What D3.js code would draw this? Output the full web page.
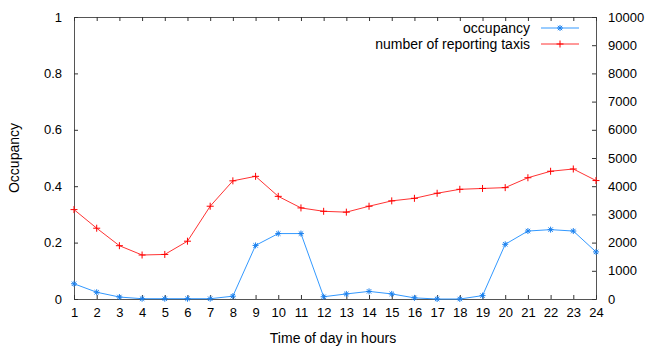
<!DOCTYPE html>
<html>
<head>
<meta charset="utf-8">
<script src="https://cdn.jsdelivr.net/npm/d3@7"></script>
<style>
  body { margin: 0; background: #fff; }
  text { font-family: "Liberation Sans", Arial, sans-serif; fill: #000; }
</style>
</head>
<body>
<script>
var width = 648,
    height = 350;

var hours = d3.range(1, 25);
var occupancy = [0.054, 0.024, 0.007, 0.001, 0.001, 0.001, 0.001, 0.010, 0.190, 0.232, 0.232, 0.008,
                 0.018, 0.027, 0.018, 0.004, 0.000, 0.000, 0.012, 0.194, 0.241, 0.246, 0.241, 0.167];
var taxis = [3170, 2510, 1890, 1560, 1580, 2050, 3290, 4190, 4350, 3640, 3230, 3110,
             3080, 3290, 3480, 3570, 3750, 3890, 3920, 3950, 4300, 4530, 4610, 4200];
var yTicks = [0, 0.2, 0.4, 0.6, 0.8, 1];
var y2Ticks = d3.range(0, 10001, 1000);

var plotLeft = 74, plotRight = 596, plotTop = 17, plotBottom = 299;

var svg = d3.select('body').append('svg')
    .attr('width', width)
    .attr('height', height);

var x = d3.scaleLinear().domain([1, 24]).range([plotLeft, plotRight]);
var y = d3.scaleLinear().domain([0, 1]).range([plotBottom, plotTop]);
var y2 = d3.scaleLinear().domain([0, 10000]).range([plotBottom, plotTop]);

// frame
svg.append('rect')
    .attr('x', plotLeft + 0.5).attr('y', plotTop + 0.5)
    .attr('width', plotRight - plotLeft).attr('height', plotBottom - plotTop)
    .attr('fill', 'none').attr('stroke', '#555').attr('stroke-width', 1);

function styleAxis(g) {
    g.select('.domain').remove();
    g.selectAll('.tick line').attr('stroke', '#333');
    g.selectAll('.tick text').style('font-size', '13px');
}

// bottom axis, ticks point inside
svg.append('g')
    .attr('transform', 'translate(0,' + plotBottom + ')')
    .call(d3.axisBottom(x).tickValues(hours).tickFormat(d3.format('d')).tickSizeInner(-4).tickPadding(9))
    .call(styleAxis);

// mirrored ticks on top
svg.append('g')
    .attr('transform', 'translate(0,' + plotTop + ')')
    .call(d3.axisTop(x).tickValues(hours).tickSizeInner(-4).tickFormat(''))
    .call(styleAxis);

svg.append('g')
    .attr('transform', 'translate(' + plotLeft + ',0)')
    .call(d3.axisLeft(y).tickValues(yTicks).tickFormat(function (d) { return d3.format('')(d); }).tickSizeInner(-4).tickPadding(12))
    .call(styleAxis);

svg.append('g')
    .attr('transform', 'translate(' + plotRight + ',0)')
    .call(d3.axisRight(y2).tickValues(y2Ticks).tickFormat(d3.format('d')).tickSizeInner(-4).tickPadding(12))
    .call(styleAxis);

// axis titles
svg.append('text')
    .attr('x', (plotLeft + plotRight) / 2 - 2).attr('y', 343)
    .attr('text-anchor', 'middle')
    .style('font-size', '14px')
    .text('Time of day in hours');

svg.append('text')
    .attr('transform', 'translate(19,' + ((plotTop + plotBottom) / 2) + ') rotate(-90)')
    .attr('text-anchor', 'middle')
    .style('font-size', '14px')
    .text('Occupancy');

var blue = '#3399ff', red = '#ff3333';

function star(sel, color) {
    sel.append('path')
        .attr('d', 'M-3,0H3M0,-3V3M-2.2,-2.2L2.2,2.2M-2.2,2.2L2.2,-2.2')
        .attr('stroke', color).attr('stroke-width', 1).attr('fill', 'none');
}
function plus(sel, color) {
    sel.append('path')
        .attr('d', 'M-3.5,0H3.5M0,-3.5V3.5')
        .attr('stroke', color).attr('stroke-width', 1).attr('fill', 'none');
}

var occLine = d3.line()
    .x(function (d, i) { return x(hours[i]); })
    .y(function (d) { return y(d); });
var taxiLine = d3.line()
    .x(function (d, i) { return x(hours[i]); })
    .y(function (d) { return y2(d); });

svg.append('path').datum(taxis)
    .attr('d', taxiLine).attr('fill', 'none').attr('stroke', red).attr('stroke-width', 1);
svg.append('path').datum(occupancy)
    .attr('d', occLine).attr('fill', 'none').attr('stroke', blue).attr('stroke-width', 1);

svg.selectAll('g.tpt').data(taxis).enter().append('g')
    .attr('class', 'tpt')
    .attr('transform', function (d, i) { return 'translate(' + x(hours[i]) + ',' + y2(d) + ')'; })
    .call(plus, '#ff0000');

svg.selectAll('g.opt').data(occupancy).enter().append('g')
    .attr('class', 'opt')
    .attr('transform', function (d, i) { return 'translate(' + x(hours[i]) + ',' + y(d) + ')'; })
    .call(star, '#1a80ee');

// legend
var legend = [
    { name: 'occupancy', color: blue, mark: star, mcolor: '#1a80ee', y: 28 },
    { name: 'number of reporting taxis', color: red, mark: plus, mcolor: '#ff0000', y: 44 }
];
legend.forEach(function (l) {
    svg.append('text')
        .attr('x', 530).attr('y', l.y).attr('dy', '0.35em')
        .attr('text-anchor', 'end')
        .style('font-size', '14px')
        .text(l.name);
    svg.append('line')
        .attr('x1', 541).attr('x2', 579).attr('y1', l.y).attr('y2', l.y)
        .attr('stroke', l.color).attr('stroke-width', 1);
    svg.append('g').attr('transform', 'translate(560,' + l.y + ')').call(l.mark, l.mcolor);
});
</script>
</body>
</html>
